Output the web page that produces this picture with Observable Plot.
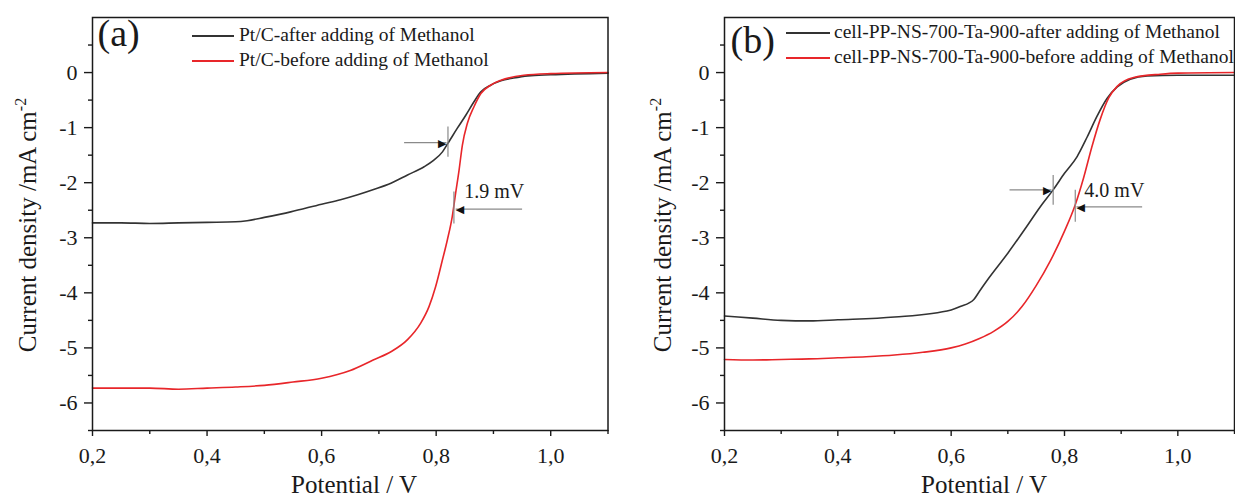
<!DOCTYPE html>
<html>
<head>
<meta charset="utf-8">
<script src="https://cdn.jsdelivr.net/npm/d3@7"></script>
<script src="https://cdn.jsdelivr.net/npm/@observablehq/plot@0.6"></script>
<style>
  html, body { margin: 0; padding: 0; background: #fff; }
  #wrap { position: relative; width: 1235px; height: 497px; overflow: hidden; background: #fff; font-family: "Liberation Serif", "Times New Roman", serif; color: #1a1a1a; }
  #wrap svg.plot { position: absolute; top: 0; }
  .leg { position: absolute; font-size: 19.5px; white-space: nowrap; line-height: 1; }
</style>
</head>
<body>
<div id="wrap"></div>
<script>
// ---------- Data ----------
// Panel (a): Pt/C
const aAfterV  = [0.20, 0.25, 0.30, 0.35, 0.40, 0.45, 0.47, 0.50, 0.546, 0.60, 0.633, 0.663, 0.692, 0.721, 0.75, 0.779, 0.796, 0.811, 0.822, 0.837, 0.852, 0.866, 0.878, 0.895, 0.913, 0.935, 0.96, 1.00, 1.10];
const aAfterJ  = [-2.73, -2.73, -2.74, -2.73, -2.72, -2.71, -2.69, -2.63, -2.53, -2.39, -2.31, -2.22, -2.12, -2.01, -1.86, -1.71, -1.59, -1.44, -1.26, -1.01, -0.77, -0.53, -0.35, -0.23, -0.15, -0.10, -0.06, -0.04, -0.01];
const aBeforeV = [0.20, 0.25, 0.30, 0.35, 0.40, 0.45, 0.50, 0.55, 0.60, 0.65, 0.69, 0.721, 0.75, 0.773, 0.7875, 0.799, 0.811, 0.8195, 0.828, 0.834, 0.840, 0.8457, 0.8545, 0.866, 0.878, 0.895, 0.913, 0.953, 1.00, 1.10];
const aBeforeJ = [-5.73, -5.73, -5.73, -5.75, -5.73, -5.71, -5.68, -5.62, -5.55, -5.41, -5.22, -5.07, -4.85, -4.55, -4.25, -3.89, -3.40, -3.04, -2.62, -2.19, -1.77, -1.32, -0.92, -0.62, -0.38, -0.23, -0.14, -0.05, -0.02, 0.00];

// Panel (b): cell-PP-NS-700-Ta-900
const bAfterV  = [0.20, 0.25, 0.30, 0.35, 0.40, 0.50, 0.60, 0.616, 0.64, 0.65, 0.663, 0.70, 0.733, 0.757, 0.78, 0.80, 0.822, 0.84, 0.857, 0.875, 0.893, 0.916, 0.946, 1.00, 1.05, 1.10];
const bAfterJ  = [-4.42, -4.46, -4.50, -4.51, -4.49, -4.44, -4.31, -4.25, -4.12, -3.97, -3.78, -3.28, -2.80, -2.44, -2.13, -1.83, -1.53, -1.17, -0.80, -0.47, -0.26, -0.12, -0.06, -0.05, -0.05, -0.05];
const bBeforeV = [0.20, 0.25, 0.30, 0.35, 0.40, 0.45, 0.50, 0.55, 0.60, 0.625, 0.65, 0.675, 0.70, 0.725, 0.75, 0.775, 0.80, 0.819, 0.834, 0.848, 0.863, 0.878, 0.893, 0.922, 0.969, 1.00, 1.10];
const bBeforeJ = [-5.21, -5.22, -5.21, -5.20, -5.18, -5.16, -5.13, -5.08, -5.00, -4.93, -4.83, -4.70, -4.52, -4.25, -3.87, -3.42, -2.88, -2.40, -1.90, -1.36, -0.85, -0.46, -0.25, -0.09, -0.03, -0.01, 0.00];

// Axes ticks
const xMajor = [0.2, 0.4, 0.6, 0.8, 1.0];
const xMinor = [0.3, 0.5, 0.7, 0.9, 1.1];
const yMajor = [-6, -5, -4, -3, -2, -1, 0];
const yMinor = [-6.5, -5.5, -4.5, -3.5, -2.5, -1.5, -0.5, 0.5];

// Annotations (data units)
const aArrowX1 = [0.744, 0.950], aArrowX2 = [0.818, 0.834], aArrowY = [-1.274, -2.48], aArrowDir = ["right", "left"];
const aMarkX = [0.8206, 0.831], aMarkY1 = [-0.98, -2.16], aMarkY2 = [-1.53, -2.74];
const aLabel = ["1.9 mV"], aLabelX = [0.849], aLabelY = [-2.17];
const bArrowX1 = [0.703, 0.937], bArrowX2 = [0.777, 0.821], bArrowY = [-2.13, -2.44], bArrowDir = ["right", "left"];
const bMarkX = [0.780, 0.819], bMarkY1 = [-1.86, -2.13], bMarkY2 = [-2.40, -2.71];
const bLabel = ["4.0 mV"], bLabelX = [0.835], bLabelY = [-2.15];

const legendA = ["Pt/C-after adding of Methanol", "Pt/C-before adding of Methanol"];
const legendB = ["cell-PP-NS-700-Ta-900-after adding of Methanol", "cell-PP-NS-700-Ta-900-before adding of Methanol"];
const colors = ["#333333", "#e8262a"];
const panelLetters = ["(a)", "(b)"];

// ---------- Build ----------
const SERIF = "Liberation Serif";
const fmtX = d => d.toFixed(1).replace(".", ",");
const fmtY = d => String(d);
const series = (V, J) => V.map((v, i) => ({v, j: J[i]}));

function makePanel(cfg) {
  const arrows = cfg.ax1.map((x1, i) => ({x1, x2: cfg.ax2[i], y: cfg.ay[i], dir: cfg.adir[i]}));
  const markers = cfg.mx.map((x, i) => ({x, y1: cfg.my1[i], y2: cfg.my2[i]}));
  const labels = cfg.lab.map((t, i) => ({t, x: cfg.labx[i], y: cfg.laby[i]}));
  const plot = Plot.plot({
    width: cfg.width,
    height: 497,
    marginLeft: cfg.ml,
    marginRight: cfg.mr,
    marginTop: 17,
    marginBottom: 67,
    x: {domain: [0.2, 1.1]},
    y: {domain: [-6.5, 1.0]},
    style: {fontFamily: SERIF, fontSize: "22px", color: "#1a1a1a", background: "transparent", overflow: "visible"},
    marks: [
      // tick marks (labels drawn as text marks below)
      Plot.axisX({ticks: xMajor, tickFormat: () => "", tickSize: 6, strokeWidth: 1.4, label: null}),
      Plot.axisX({ticks: xMinor, tickFormat: () => "", tickSize: 4, strokeWidth: 1.4, label: null}),
      Plot.axisY({ticks: yMajor, tickFormat: () => "", tickSize: 8, strokeWidth: 1.4, label: null}),
      Plot.axisY({ticks: yMinor, tickFormat: () => "", tickSize: 4, strokeWidth: 1.4, label: null}),
      Plot.text(xMajor, {x: d => d, frameAnchor: "bottom", text: fmtX, lineAnchor: "top", dy: 17, fontSize: 22, fontFamily: SERIF, fill: "#1a1a1a"}),
      Plot.text(yMajor, {y: d => d, frameAnchor: "left", text: fmtY, textAnchor: "end", lineAnchor: "middle", dx: -15, fontSize: 22, fontFamily: SERIF, fill: "#1a1a1a"}),
      Plot.line(series(cfg.afterV, cfg.afterJ), {x: "v", y: "j", stroke: colors[0], strokeWidth: 1.6, curve: "monotone-x"}),
      Plot.line(series(cfg.beforeV, cfg.beforeJ), {x: "v", y: "j", stroke: colors[1], strokeWidth: 1.6, curve: "monotone-x"}),
      Plot.link(arrows, {x1: "x1", x2: "x2", y1: "y", y2: "y", stroke: "#8a8a8a", strokeWidth: 1.2}),
      Plot.link(markers, {x1: "x", x2: "x", y1: "y1", y2: "y2", stroke: "#8a8a8a", strokeWidth: 1.2}),
      Plot.text(arrows.filter(d => d.dir === "right"), {x: "x2", y: "y", text: () => "\u25B6", textAnchor: "end", fill: "#111", fontSize: 11, fontFamily: "DejaVu Sans", dy: 0.5}),
      Plot.text(arrows.filter(d => d.dir === "left"), {x: "x2", y: "y", text: () => "\u25C0", textAnchor: "start", fill: "#111", fontSize: 11, fontFamily: "DejaVu Sans", dy: 0.5}),
      Plot.text(labels, {x: "x", y: "y", text: "t", textAnchor: "start", fontSize: 20, fill: "#1a1a1a", fontFamily: SERIF}),
      Plot.text([cfg.letter], {frameAnchor: "top-left", text: d => d, textAnchor: "start", lineAnchor: "top", dx: cfg.letterDx, dy: cfg.letterDy, fontSize: 38, fill: "#1a1a1a", fontFamily: SERIF}),
      Plot.frame({stroke: "#1a1a1a", strokeWidth: 1.5})
    ]
  });
  plot.classList.add("plot");
  plot.style.left = cfg.left + "px";
  // Axis titles
  const svg = d3.select(plot);
  const yt = svg.append("text")
    .attr("transform", `translate(${cfg.ytx},225) rotate(-90)`)
    .attr("text-anchor", "middle").attr("dy", "0.35em")
    .attr("font-size", 25).attr("fill", "#1a1a1a").attr("font-family", SERIF);
  yt.append("tspan").text("Current density /mA cm");
  yt.append("tspan").text("-2").attr("font-size", 16).attr("dy", "-0.6em");
  svg.append("text").attr("x", cfg.xtx).attr("y", 493).attr("text-anchor", "middle")
    .attr("font-size", 25).attr("fill", "#1a1a1a").attr("font-family", SERIF)
    .text("Potential / V");
  return plot;
}

const wrap = document.getElementById("wrap");
wrap.appendChild(makePanel({
  width: 620, left: 0, ml: 92, mr: 12.5,
  afterV: aAfterV, afterJ: aAfterJ, beforeV: aBeforeV, beforeJ: aBeforeJ,
  ax1: aArrowX1, ax2: aArrowX2, ay: aArrowY, adir: aArrowDir,
  mx: aMarkX, my1: aMarkY1, my2: aMarkY2,
  lab: aLabel, labx: aLabelX, laby: aLabelY,
  letter: panelLetters[0], letterDx: 5, letterDy: 2,
  ytx: 27, xtx: 354
}));
wrap.appendChild(makePanel({
  width: 640, left: 620, ml: 104, mr: 26,
  afterV: bAfterV, afterJ: bAfterJ, beforeV: bBeforeV, beforeJ: bBeforeJ,
  ax1: bArrowX1, ax2: bArrowX2, ay: bArrowY, adir: bArrowDir,
  mx: bMarkX, my1: bMarkY1, my2: bMarkY2,
  lab: bLabel, labx: bLabelX, laby: bLabelY,
  letter: panelLetters[1], letterDx: 6, letterDy: 9,
  ytx: 42, xtx: 364
}));

// Legends (HTML overlay)
function legend(texts, lineX1, lineX2, textX, ys) {
  texts.forEach((t, i) => {
    const sw = document.createElement("div");
    sw.className = "leg";
    sw.style.left = lineX1 + "px";
    sw.style.top = (ys[i] - 1) + "px";
    sw.style.width = (lineX2 - lineX1) + "px";
    sw.style.height = "2px";
    sw.style.background = colors[i];
    wrap.appendChild(sw);
    const tx = document.createElement("div");
    tx.className = "leg";
    tx.textContent = t;
    tx.style.left = textX + "px";
    tx.style.top = (ys[i] - 11) + "px";
    wrap.appendChild(tx);
  });
}
legend(legendA, 192, 234, 239, [36, 61]);
legend(legendB, 786, 830, 834, [33, 58]);
</script>
</body>
</html>
